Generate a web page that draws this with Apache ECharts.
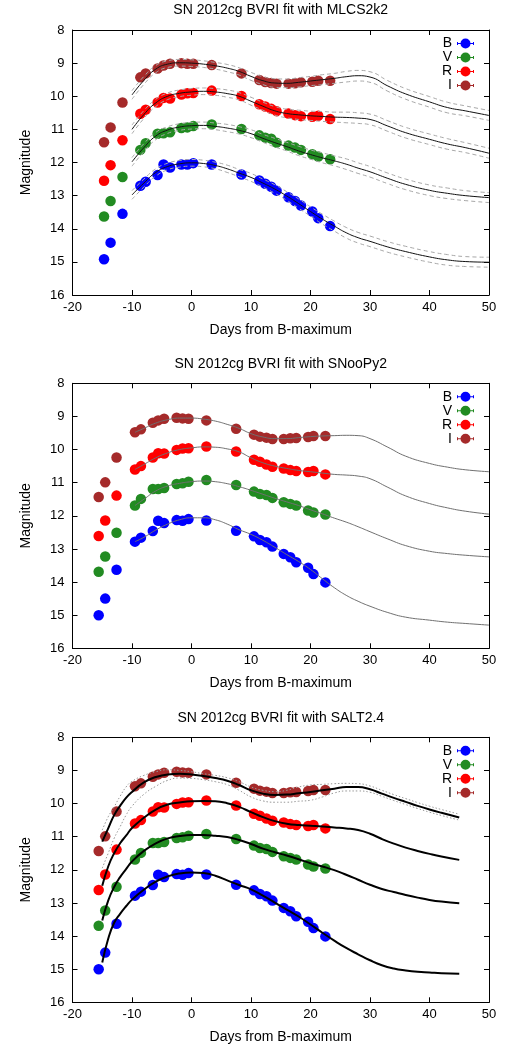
<!DOCTYPE html>
<html>
<head>
<meta charset="utf-8">
<title>SN 2012cg BVRI fits</title>
<script src="https://cdn.jsdelivr.net/npm/echarts@6/dist/echarts.min.js"></script>
<style>
html,body{margin:0;padding:0;background:#fff;}
#main{width:511px;height:1049px;}
</style>
</head>
<body>
<div id="main"></div>
<script>
// photometry as plotted in the MLCS2k2 panel (its own B max)
var mlcsDays = [-14.7, -13.6, -11.6, -8.6, -7.7, -5.7, -4.7, -3.6, -1.7, -0.7, 0.3, 3.4, 8.4, 11.4, 12.4, 13.4, 14.3, 16.3, 17.4, 18.4, 20.3, 21.3, 23.3];
var mlcsB = [14.92, 14.42, 13.55, 12.70, 12.58, 12.38, 12.06, 12.15, 12.06, 12.06, 12.02, 12.06, 12.36, 12.54, 12.64, 12.73, 12.85, 13.05, 13.16, 13.30, 13.48, 13.68, 13.92];
var mlcsV = [13.63, 13.16, 12.44, 11.62, 11.42, 11.13, 11.12, 11.09, 10.96, 10.94, 10.90, 10.85, 10.99, 11.18, 11.25, 11.28, 11.40, 11.49, 11.55, 11.62, 11.75, 11.82, 11.90];
var mlcsR = [12.55, 12.08, 11.33, 10.53, 10.41, 10.19, 10.05, 10.07, 9.95, 9.91, 9.90, 9.83, 9.99, 10.24, 10.31, 10.38, 10.45, 10.52, 10.57, 10.60, 10.62, 10.59, 10.69];
var mlcsI = [11.39, 10.94, 10.19, 9.43, 9.31, 9.16, 9.07, 9.02, 9.00, 9.02, 9.02, 9.06, 9.31, 9.51, 9.57, 9.60, 9.62, 9.62, 9.61, 9.58, 9.56, 9.53, 9.53];

// photometry in the SNooPy2 and SALT2.4 panels
var obsDays = [-15.6, -14.5, -12.6, -9.5, -8.5, -6.5, -5.6, -4.6, -2.5, -1.5, -0.5, 2.5, 7.5, 10.5, 11.5, 12.6, 13.6, 15.5, 16.6, 17.6, 19.6, 20.5, 22.5];
var obsB = [15.00, 14.50, 13.63, 12.78, 12.66, 12.46, 12.15, 12.22, 12.13, 12.15, 12.10, 12.14, 12.45, 12.62, 12.73, 12.80, 12.93, 13.15, 13.25, 13.40, 13.57, 13.76, 14.01];
var obsV = [13.69, 13.23, 12.51, 11.69, 11.49, 11.19, 11.19, 11.16, 11.04, 11.02, 10.97, 10.92, 11.07, 11.27, 11.34, 11.37, 11.46, 11.59, 11.64, 11.69, 11.84, 11.90, 11.96];
var obsR = [12.61, 12.14, 11.39, 10.60, 10.50, 10.24, 10.11, 10.12, 10.01, 9.97, 9.96, 9.91, 10.06, 10.31, 10.37, 10.45, 10.52, 10.57, 10.62, 10.65, 10.68, 10.65, 10.75];
var obsI = [11.43, 10.99, 10.24, 9.48, 9.39, 9.19, 9.12, 9.07, 9.04, 9.06, 9.07, 9.12, 9.37, 9.55, 9.61, 9.64, 9.68, 9.68, 9.66, 9.65, 9.62, 9.59, 9.59];

// MLCS2k2 model curves
var mlcsFitDays = [-10, -8, -6, -4, -2, 0, 2, 4, 6, 8, 10, 12, 14, 16, 18, 20, 22, 24, 26, 28, 30, 33, 36, 40, 43, 46, 50];
var mlcsFitB = [12.98, 12.62, 12.30, 12.12, 12.04, 12.01, 12.03, 12.09, 12.19, 12.32, 12.45, 12.62, 12.80, 13.01, 13.24, 13.48, 13.71, 13.92, 14.12, 14.27, 14.38, 14.55, 14.69, 14.85, 14.94, 14.99, 15.01];
var mlcsFitV = [11.98, 11.55, 11.20, 11.02, 10.93, 10.89, 10.88, 10.91, 10.96, 11.03, 11.13, 11.27, 11.40, 11.52, 11.65, 11.76, 11.86, 11.95, 12.05, 12.17, 12.28, 12.48, 12.66, 12.84, 12.93, 13.00, 13.06];
var mlcsFitR = [11.00, 10.55, 10.20, 10.00, 9.91, 9.87, 9.85, 9.87, 9.92, 10.00, 10.15, 10.30, 10.44, 10.52, 10.56, 10.59, 10.61, 10.63, 10.64, 10.66, 10.70, 10.90, 11.10, 11.30, 11.44, 11.55, 11.72];
var mlcsFitI = [9.96, 9.52, 9.18, 9.03, 8.99, 9.00, 9.03, 9.08, 9.15, 9.25, 9.40, 9.53, 9.60, 9.61, 9.58, 9.54, 9.50, 9.46, 9.41, 9.38, 9.42, 9.69, 9.93, 10.17, 10.34, 10.44, 10.58];
// half width of the dashed model error band
var mlcsBandWidth = [0.13, 0.12, 0.11, 0.10, 0.10, 0.10, 0.10, 0.10, 0.11, 0.11, 0.12, 0.12, 0.13, 0.13, 0.14, 0.14, 0.15, 0.15, 0.16, 0.16, 0.16, 0.16, 0.16, 0.16, 0.16, 0.15, 0.15];

// SNooPy2 model curves
var snoopyFitDays = [-9.5, -8, -6, -4, -2, 0, 2, 4, 6, 8, 10, 12, 14, 16, 18, 20, 22, 24, 26, 28, 30, 33, 36, 40, 43, 46, 50];
var snoopyFitB = [12.78, 12.65, 12.43, 12.25, 12.12, 12.06, 12.06, 12.12, 12.25, 12.42, 12.56, 12.74, 12.95, 13.17, 13.38, 13.62, 13.90, 14.17, 14.40, 14.58, 14.73, 14.92, 15.06, 15.15, 15.21, 15.25, 15.30];
var snoopyFitV = [11.69, 11.50, 11.25, 11.10, 11.02, 10.97, 10.95, 10.97, 11.03, 11.12, 11.23, 11.35, 11.47, 11.58, 11.69, 11.82, 11.94, 12.07, 12.19, 12.33, 12.48, 12.70, 12.90, 13.07, 13.14, 13.19, 13.24];
var snoopyFitR = [10.60, 10.45, 10.25, 10.10, 10.00, 9.95, 9.92, 9.93, 9.98, 10.07, 10.25, 10.40, 10.50, 10.57, 10.63, 10.67, 10.71, 10.75, 10.77, 10.80, 10.88, 11.14, 11.40, 11.63, 11.76, 11.86, 11.95];
var snoopyFitI = [9.48, 9.36, 9.20, 9.10, 9.05, 9.05, 9.08, 9.14, 9.24, 9.36, 9.52, 9.62, 9.67, 9.67, 9.64, 9.61, 9.59, 9.58, 9.57, 9.58, 9.67, 9.93, 10.20, 10.42, 10.53, 10.61, 10.67];

// SALT2.4 model curves
var saltFitDays = [-15, -14, -13, -12, -11, -10, -8, -6, -4, -2, 0, 2, 4, 6, 8, 10, 12, 14, 16, 18, 20, 22, 24, 26, 28, 30, 32, 34, 36, 38, 40, 42, 45];
var saltFitB = [14.80, 14.08, 13.60, 13.33, 13.10, 12.90, 12.60, 12.36, 12.20, 12.11, 12.08, 12.10, 12.18, 12.32, 12.46, 12.59, 12.78, 12.99, 13.20, 13.41, 13.65, 13.90, 14.14, 14.36, 14.55, 14.73, 14.88, 14.98, 15.04, 15.08, 15.10, 15.12, 15.14];
var saltFitV = [13.53, 12.93, 12.52, 12.22, 11.98, 11.75, 11.43, 11.20, 11.05, 10.98, 10.95, 10.95, 10.97, 11.01, 11.10, 11.22, 11.36, 11.47, 11.57, 11.68, 11.80, 11.90, 12.01, 12.15, 12.30, 12.45, 12.58, 12.67, 12.76, 12.84, 12.91, 12.96, 13.01];
var saltFitR = [12.48, 11.90, 11.50, 11.20, 10.97, 10.74, 10.43, 10.18, 10.03, 9.97, 9.93, 9.92, 9.93, 9.99, 10.10, 10.26, 10.41, 10.53, 10.61, 10.65, 10.67, 10.69, 10.72, 10.75, 10.80, 10.91, 11.07, 11.21, 11.33, 11.43, 11.52, 11.60, 11.70];
var saltFitI = [11.15, 10.75, 10.35, 10.07, 9.83, 9.65, 9.36, 9.20, 9.12, 9.10, 9.12, 9.17, 9.23, 9.31, 9.44, 9.60, 9.70, 9.74, 9.73, 9.69, 9.65, 9.60, 9.55, 9.50, 9.50, 9.57, 9.70, 9.83, 9.95, 10.07, 10.18, 10.28, 10.42];
// dotted error band of the I curve
var saltBandIUp = [10.80, 10.40, 10.10, 9.78, 9.50, 9.33, 9.15, 9.04, 8.98, 9.00, 9.04, 9.10, 9.15, 9.22, 9.34, 9.50, 9.60, 9.64, 9.60, 9.50, 9.44, 9.42, 9.40, 9.39, 9.40, 9.47, 9.60, 9.73, 9.85, 9.97, 10.08, 10.18, 10.32];
var saltBandILow = [11.95, 11.50, 11.05, 10.70, 10.35, 10.08, 9.72, 9.48, 9.30, 9.23, 9.24, 9.28, 9.34, 9.43, 9.60, 9.80, 9.92, 9.96, 9.96, 9.93, 9.90, 9.80, 9.68, 9.62, 9.62, 9.66, 9.78, 9.91, 10.03, 10.15, 10.26, 10.36, 10.50];

var bandNames = ['B', 'V', 'R', 'I'];
var bandColors = ['#0000ff', '#228b22', '#ff0000', '#a52a2a'];
var xTicks = {min: -20, max: 50, step: 10};
var yTicks = {min: 8, max: 16, step: 1};

var gridTops = [30, 383.3, 737.3];
var gridLeft = 72.5, gridW = 416.5, gridH = 265;
var legendIcon = 'path://M0,3.5h1v1h15v-1h1v3h-1v-1h-15v1h-1z M3.5,5a5,5 0 1,1 10,0a5,5 0 1,1 -10,0z';

function pairs(xs, ys) {
    var out = [];
    for (var i = 0; i < xs.length; i++) {
        out.push([xs[i], ys[i]]);
    }
    return out;
}

function shifted(xs, ys, w, sign) {
    var out = [];
    for (var i = 0; i < xs.length; i++) {
        out.push([xs[i], ys[i] + sign * w[i]]);
    }
    return out;
}

var panels = [
    {title: 'SN 2012cg BVRI fit with MLCS2k2', days: mlcsDays, mags: [mlcsB, mlcsV, mlcsR, mlcsI],
        fitDays: mlcsFitDays, fits: [mlcsFitB, mlcsFitV, mlcsFitR, mlcsFitI], lineColor: '#111', lineWidth: 1},
    {title: 'SN 2012cg BVRI fit with SNooPy2', days: obsDays, mags: [obsB, obsV, obsR, obsI],
        fitDays: snoopyFitDays, fits: [snoopyFitB, snoopyFitV, snoopyFitR, snoopyFitI], lineColor: '#707070', lineWidth: 1},
    {title: 'SN 2012cg BVRI fit with SALT2.4', days: obsDays, mags: [obsB, obsV, obsR, obsI],
        fitDays: saltFitDays, fits: [saltFitB, saltFitV, saltFitR, saltFitI], lineColor: '#000', lineWidth: 2}
];

var myChart = echarts.init(document.getElementById('main'));

var titles = [], grids = [], xAxes = [], yAxes = [], legends = [], series = [];

function axisLine() {
    return {show: true, onZero: false, lineStyle: {color: '#000', width: 1}};
}
function axisTick() {
    return {show: true, inside: true, length: 5, lineStyle: {color: '#000', width: 1}};
}

for (var p = 0; p < panels.length; p++) {
    var pn = panels[p];
    var gTop = gridTops[p];
    titles.push({
        text: pn.title, left: gridLeft + gridW / 2, top: gTop - 26.5, textAlign: 'center', padding: 0,
        textStyle: {fontSize: 14, fontWeight: 'normal', color: '#000'}
    });
    grids.push({left: gridLeft, top: gTop, width: gridW, height: gridH});
    // bottom and top x axes (top one only mirrors the ticks)
    xAxes.push({
        gridIndex: p, type: 'value', min: xTicks.min, max: xTicks.max, interval: xTicks.step, position: 'bottom',
        name: 'Days from B-maximum', nameLocation: 'middle', nameGap: 28,
        nameTextStyle: {fontSize: 14, color: '#000'},
        axisLine: axisLine(), axisTick: axisTick(),
        axisLabel: {fontSize: 13, color: '#000', margin: 6},
        splitLine: {show: false}
    });
    xAxes.push({
        gridIndex: p, type: 'value', min: xTicks.min, max: xTicks.max, interval: xTicks.step, position: 'top',
        axisLine: axisLine(), axisTick: axisTick(), axisLabel: {show: false}, splitLine: {show: false}
    });
    yAxes.push({
        gridIndex: p, type: 'value', min: yTicks.min, max: yTicks.max, interval: yTicks.step, inverse: true, position: 'left',
        name: 'Magnitude', nameLocation: 'middle', nameRotate: 90, nameGap: 39,
        nameTextStyle: {fontSize: 14, color: '#000'},
        axisLine: axisLine(), axisTick: axisTick(),
        axisLabel: {fontSize: 13, color: '#000', margin: 8},
        splitLine: {show: false}
    });
    yAxes.push({
        gridIndex: p, type: 'value', min: yTicks.min, max: yTicks.max, interval: yTicks.step, inverse: true, position: 'right',
        axisLine: axisLine(), axisTick: axisTick(), axisLabel: {show: false}, splitLine: {show: false}
    });
    legends.push({
        orient: 'vertical', right: 37, top: gTop + 6.5, padding: 0, align: 'right',
        itemWidth: 17, itemHeight: 10, itemGap: 0, selectedMode: false,
        textStyle: {fontSize: 14, color: '#000'},
        data: bandNames.map(function (n) { return {name: n, icon: legendIcon}; })
    });

    var xi = p * 2, yi = p * 2;
    for (var b = 0; b < 4; b++) {
        series.push({
            name: bandNames[b], type: 'scatter', xAxisIndex: xi, yAxisIndex: yi,
            symbol: 'circle', symbolSize: 10.5, z: 2,
            itemStyle: {color: bandColors[b], opacity: 1},
            data: pairs(pn.days, pn.mags[b])
        });
    }
    // model error bands
    if (p === 0) {
        for (var b2 = 0; b2 < 4; b2++) {
            [-1, 1].forEach(function (s) {
                series.push({
                    name: 'band', type: 'line', xAxisIndex: xi, yAxisIndex: yi, showSymbol: false, smooth: 0.5, z: 3,
                    lineStyle: {color: '#a8a8a8', width: 1, type: [4, 3]},
                    data: shifted(mlcsFitDays, panels[0].fits[b2], mlcsBandWidth, s)
                });
            });
        }
    }
    if (p === 2) {
        [saltBandIUp, saltBandILow].forEach(function (edge) {
            series.push({
                name: 'band', type: 'line', xAxisIndex: xi, yAxisIndex: yi, showSymbol: false, smooth: 0.5, z: 3,
                lineStyle: {color: '#999', width: 1, type: [1.5, 2]},
                data: pairs(saltFitDays, edge)
            });
        });
    }
    for (var b3 = 0; b3 < 4; b3++) {
        series.push({
            name: 'fit', type: 'line', xAxisIndex: xi, yAxisIndex: yi, showSymbol: false, smooth: 0.5, z: 4,
            lineStyle: {color: pn.lineColor, width: pn.lineWidth},
            data: pairs(pn.fitDays, pn.fits[b3])
        });
    }
}

var option = {
    animation: false,
    backgroundColor: '#fff',
    textStyle: {fontFamily: 'Liberation Sans, Arial, sans-serif'},
    title: titles,
    grid: grids,
    xAxis: xAxes,
    yAxis: yAxes,
    legend: legends,
    series: series
};

myChart.setOption(option);
</script>
</body>
</html>
